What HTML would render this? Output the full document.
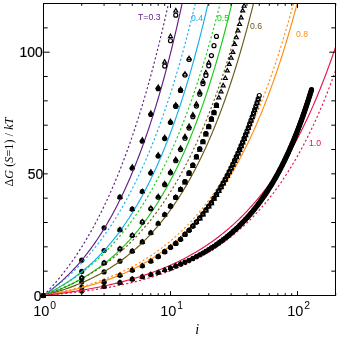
<!DOCTYPE html>
<html><head><meta charset="utf-8"><title>chart</title>
<style>
html,body{margin:0;padding:0;background:#fff;}
#w{position:relative;width:339px;height:341px;overflow:hidden;background:#fff;font-family:"Liberation Sans",sans-serif;}
.t{position:absolute;white-space:nowrap;line-height:1.15;font-family:"Liberation Sans",sans-serif;color:#000;}
</style></head><body><div id="w">
<svg width="339" height="341" viewBox="0 0 339 341" style="position:absolute;left:0;top:0">
<defs><clipPath id="c"><rect x="43.5" y="3.5" width="292.0" height="292.0"/></clipPath></defs>
<rect x="0" y="0" width="339" height="341" fill="#fff"/>
<g fill="#000" stroke="none">
<circle cx="43.50" cy="295.50" r="2.6"/>
<circle cx="81.73" cy="260.22" r="2.6"/>
<circle cx="104.09" cy="227.86" r="2.6"/>
<circle cx="119.96" cy="197.21" r="2.6"/>
<circle cx="132.27" cy="168.25" r="2.6"/>
<circle cx="142.33" cy="141.25" r="2.6"/>
<circle cx="150.83" cy="114.48" r="2.6"/>
<circle cx="158.19" cy="88.70" r="2.6"/>
<circle cx="43.50" cy="295.50" r="2.6"/>
<circle cx="81.73" cy="271.41" r="2.6"/>
<circle cx="104.09" cy="250.49" r="2.6"/>
<circle cx="119.96" cy="229.81" r="2.6"/>
<circle cx="132.27" cy="209.13" r="2.6"/>
<circle cx="142.33" cy="191.61" r="2.6"/>
<circle cx="150.83" cy="173.12" r="2.6"/>
<circle cx="158.19" cy="156.09" r="2.6"/>
<circle cx="164.69" cy="138.57" r="2.6"/>
<circle cx="170.50" cy="122.51" r="2.6"/>
<circle cx="175.76" cy="106.21" r="2.6"/>
<circle cx="180.56" cy="90.40" r="2.6"/>
<circle cx="43.50" cy="295.50" r="2.6"/>
<circle cx="43.50" cy="295.50" r="2.6"/>
<circle cx="81.73" cy="282.12" r="2.6"/>
<circle cx="104.09" cy="271.90" r="2.6"/>
<circle cx="119.96" cy="261.19" r="2.6"/>
<circle cx="132.27" cy="251.22" r="2.6"/>
<circle cx="142.33" cy="241.97" r="2.6"/>
<circle cx="150.83" cy="232.73" r="2.6"/>
<circle cx="158.19" cy="223.48" r="2.6"/>
<circle cx="164.69" cy="214.72" r="2.6"/>
<circle cx="170.50" cy="206.21" r="2.6"/>
<circle cx="175.76" cy="197.45" r="2.6"/>
<circle cx="180.56" cy="189.42" r="2.6"/>
<circle cx="184.97" cy="181.64" r="2.6"/>
<circle cx="189.06" cy="172.88" r="2.6"/>
<circle cx="192.86" cy="165.09" r="2.6"/>
<circle cx="196.42" cy="156.58" r="2.6"/>
<circle cx="199.77" cy="148.79" r="2.6"/>
<circle cx="202.92" cy="141.49" r="2.6"/>
<circle cx="205.90" cy="133.71" r="2.6"/>
<circle cx="208.73" cy="126.41" r="2.6"/>
<circle cx="211.42" cy="118.86" r="2.6"/>
<circle cx="213.99" cy="112.30" r="2.6"/>
<circle cx="216.44" cy="105.13" r="2.6"/>
<circle cx="43.50" cy="295.50" r="2.6"/>
<circle cx="81.73" cy="287.47" r="2.6"/>
<circle cx="104.09" cy="281.63" r="2.6"/>
<circle cx="119.96" cy="275.31" r="2.6"/>
<circle cx="132.27" cy="270.20" r="2.6"/>
<circle cx="142.33" cy="265.82" r="2.6"/>
<circle cx="150.83" cy="261.19" r="2.6"/>
<circle cx="158.19" cy="256.57" r="2.6"/>
<circle cx="164.69" cy="251.71" r="2.6"/>
<circle cx="170.50" cy="247.33" r="2.6"/>
<circle cx="175.76" cy="243.43" r="2.6"/>
<circle cx="180.56" cy="239.30" r="2.6"/>
<circle cx="184.97" cy="234.40" r="2.6"/>
<circle cx="189.06" cy="230.23" r="2.6"/>
<circle cx="192.86" cy="226.11" r="2.6"/>
<circle cx="196.42" cy="222.04" r="2.6"/>
<circle cx="43.50" cy="295.50" r="2.6"/>
<circle cx="81.73" cy="291.12" r="2.6"/>
<circle cx="104.09" cy="286.50" r="2.6"/>
<circle cx="119.96" cy="282.61" r="2.6"/>
<circle cx="132.27" cy="279.20" r="2.6"/>
<circle cx="142.33" cy="276.77" r="2.6"/>
<circle cx="150.83" cy="274.58" r="2.6"/>
<circle cx="158.19" cy="272.48" r="2.6"/>
<circle cx="158.19" cy="196.96" r="1.7"/>
<circle cx="164.69" cy="184.31" r="1.7"/>
<circle cx="170.50" cy="172.39" r="1.7"/>
<circle cx="175.76" cy="160.23" r="1.7"/>
<circle cx="180.56" cy="149.03" r="1.7"/>
<circle cx="184.97" cy="137.60" r="1.7"/>
<circle cx="189.06" cy="127.38" r="1.7"/>
<circle cx="192.86" cy="115.94" r="1.7"/>
<circle cx="196.42" cy="105.24" r="1.7"/>
<circle cx="199.77" cy="93.32" r="1.7"/>
<circle cx="202.92" cy="82.61" r="1.7"/>
</g>
<g clip-path="url(#c)" fill="none" stroke-linecap="butt" stroke-linejoin="round">
<path d="M43.50,295.50 L44.83,294.15 L46.17,292.79 L47.50,291.40 L48.84,289.99 L50.17,288.55 L51.51,287.09 L52.84,285.61 L54.18,284.11 L55.51,282.58 L56.84,281.02 L58.18,279.44 L59.51,277.84 L60.85,276.20 L62.18,274.54 L63.52,272.86 L64.85,271.15 L66.18,269.40 L67.52,267.63 L68.85,265.84 L70.19,264.01 L71.52,262.15 L72.86,260.27 L74.19,258.35 L75.53,256.40 L76.86,254.42 L78.19,252.40 L79.53,250.36 L80.86,248.28 L82.20,246.17 L83.53,244.02 L84.87,241.84 L86.20,239.62 L87.53,237.37 L88.87,235.08 L90.20,232.75 L91.54,230.38 L92.87,227.98 L94.21,225.54 L95.54,223.05 L96.88,220.53 L98.21,217.97 L99.54,215.36 L100.88,212.71 L102.21,210.02 L103.55,207.29 L104.88,204.51 L106.22,201.68 L107.55,198.81 L108.88,195.90 L110.22,192.93 L111.55,189.92 L112.89,186.86 L114.22,183.75 L115.56,180.58 L116.89,177.37 L118.23,174.10 L119.56,170.78 L120.89,167.41 L122.23,163.98 L123.56,160.50 L124.90,156.96 L126.23,153.36 L127.57,149.71 L128.90,145.99 L130.24,142.22 L131.57,138.38 L132.90,134.48 L134.24,130.52 L135.57,126.49 L136.91,122.39 L138.24,118.23 L139.58,114.01 L140.91,109.71 L142.24,105.35 L143.58,100.91 L144.91,96.40 L146.25,91.82 L147.58,87.16 L148.92,82.43 L150.25,77.62 L151.59,72.73 L152.92,67.76 L154.25,62.72 L155.59,57.59 L156.92,52.37 L158.26,47.07 L159.59,41.69 L160.93,36.22 L162.26,30.66 L163.59,25.01 L164.93,19.26 L166.26,13.43 L167.60,7.50 L168.93,1.47 L170.27,-4.66 L171.60,-10.88 L172.94,-17.21" stroke="#5E1E82" stroke-width="1.15" stroke-dasharray="2.1 2.3"/>
<path d="M43.50,295.50 L44.83,294.57 L46.17,293.62 L47.50,292.65 L48.84,291.66 L50.17,290.65 L51.51,289.63 L52.84,288.58 L54.18,287.51 L55.51,286.42 L56.84,285.31 L58.18,284.18 L59.51,283.03 L60.85,281.85 L62.18,280.65 L63.52,279.43 L64.85,278.18 L66.18,276.91 L67.52,275.62 L68.85,274.30 L70.19,272.95 L71.52,271.58 L72.86,270.18 L74.19,268.76 L75.53,267.31 L76.86,265.83 L78.19,264.32 L79.53,262.79 L80.86,261.22 L82.20,259.63 L83.53,258.00 L84.87,256.35 L86.20,254.66 L87.53,252.94 L88.87,251.19 L90.20,249.41 L91.54,247.59 L92.87,245.74 L94.21,243.86 L95.54,241.94 L96.88,239.98 L98.21,237.99 L99.54,235.96 L100.88,233.89 L102.21,231.78 L103.55,229.64 L104.88,227.46 L106.22,225.23 L107.55,222.96 L108.88,220.66 L110.22,218.31 L111.55,215.91 L112.89,213.47 L114.22,210.99 L115.56,208.46 L116.89,205.89 L118.23,203.27 L119.56,200.60 L120.89,197.88 L122.23,195.12 L123.56,192.30 L124.90,189.43 L126.23,186.51 L127.57,183.53 L128.90,180.51 L130.24,177.42 L131.57,174.28 L132.90,171.09 L134.24,167.84 L135.57,164.52 L136.91,161.15 L138.24,157.72 L139.58,154.23 L140.91,150.67 L142.24,147.05 L143.58,143.36 L144.91,139.61 L146.25,135.79 L147.58,131.91 L148.92,127.95 L150.25,123.92 L151.59,119.82 L152.92,115.65 L154.25,111.41 L155.59,107.08 L156.92,102.68 L158.26,98.21 L159.59,93.65 L160.93,89.01 L162.26,84.29 L163.59,79.49 L164.93,74.60 L166.26,69.63 L167.60,64.56 L168.93,59.41 L170.27,54.17 L171.60,48.83 L172.94,43.40 L174.27,37.88 L175.60,32.26 L176.94,26.54 L178.27,20.71 L179.61,14.79 L180.94,8.76 L182.28,2.63 L183.61,-3.61 L184.95,-9.96 L186.28,-16.42 L187.61,-23.00" stroke="#5E1E82" stroke-width="1.15"/>
<path d="M43.50,295.50 L44.83,294.60 L46.17,293.68 L47.50,292.75 L48.84,291.80 L50.17,290.84 L51.51,289.86 L52.84,288.87 L54.18,287.86 L55.51,286.83 L56.84,285.79 L58.18,284.73 L59.51,283.65 L60.85,282.56 L62.18,281.45 L63.52,280.32 L64.85,279.17 L66.18,278.00 L67.52,276.81 L68.85,275.61 L70.19,274.38 L71.52,273.14 L72.86,271.87 L74.19,270.59 L75.53,269.28 L76.86,267.95 L78.19,266.60 L79.53,265.23 L80.86,263.83 L82.20,262.42 L83.53,260.98 L84.87,259.51 L86.20,258.03 L87.53,256.52 L88.87,254.98 L90.20,253.42 L91.54,251.83 L92.87,250.22 L94.21,248.58 L95.54,246.92 L96.88,245.23 L98.21,243.51 L99.54,241.76 L100.88,239.98 L102.21,238.18 L103.55,236.35 L104.88,234.48 L106.22,232.59 L107.55,230.66 L108.88,228.71 L110.22,226.72 L111.55,224.70 L112.89,222.65 L114.22,220.56 L115.56,218.44 L116.89,216.28 L118.23,214.09 L119.56,211.87 L120.89,209.61 L122.23,207.31 L123.56,204.97 L124.90,202.60 L126.23,200.18 L127.57,197.73 L128.90,195.24 L130.24,192.71 L131.57,190.14 L132.90,187.52 L134.24,184.86 L135.57,182.16 L136.91,179.42 L138.24,176.63 L139.58,173.79 L140.91,170.91 L142.24,167.98 L143.58,165.01 L144.91,161.99 L146.25,158.91 L147.58,155.79 L148.92,152.62 L150.25,149.39 L151.59,146.11 L152.92,142.78 L154.25,139.40 L155.59,135.96 L156.92,132.46 L158.26,128.91 L159.59,125.30 L160.93,121.63 L162.26,117.90 L163.59,114.11 L164.93,110.26 L166.26,106.34 L167.60,102.37 L168.93,98.33 L170.27,94.22 L171.60,90.04 L172.94,85.80 L174.27,81.49 L175.60,77.11 L176.94,72.65 L178.27,68.13 L179.61,63.53 L180.94,58.86 L182.28,54.11 L183.61,49.28 L184.95,44.37 L186.28,39.39 L187.61,34.32 L188.95,29.17 L190.28,23.94 L191.62,18.62 L192.95,13.22 L194.29,7.73 L195.62,2.15 L196.95,-3.52 L198.29,-9.29 L199.62,-15.15 L200.96,-21.10" stroke="#14AFEB" stroke-width="1.15" stroke-dasharray="2.1 2.3"/>
<path d="M43.50,295.50 L44.83,294.87 L46.17,294.24 L47.50,293.58 L48.84,292.92 L50.17,292.24 L51.51,291.55 L52.84,290.85 L54.18,290.13 L55.51,289.40 L56.84,288.65 L58.18,287.89 L59.51,287.12 L60.85,286.32 L62.18,285.52 L63.52,284.70 L64.85,283.86 L66.18,283.01 L67.52,282.14 L68.85,281.25 L70.19,280.34 L71.52,279.42 L72.86,278.48 L74.19,277.53 L75.53,276.55 L76.86,275.56 L78.19,274.55 L79.53,273.51 L80.86,272.46 L82.20,271.39 L83.53,270.30 L84.87,269.19 L86.20,268.06 L87.53,266.90 L88.87,265.73 L90.20,264.53 L91.54,263.31 L92.87,262.06 L94.21,260.80 L95.54,259.51 L96.88,258.19 L98.21,256.85 L99.54,255.49 L100.88,254.10 L102.21,252.69 L103.55,251.25 L104.88,249.78 L106.22,248.29 L107.55,246.76 L108.88,245.21 L110.22,243.64 L111.55,242.03 L112.89,240.39 L114.22,238.72 L115.56,237.03 L116.89,235.30 L118.23,233.54 L119.56,231.74 L120.89,229.92 L122.23,228.06 L123.56,226.17 L124.90,224.24 L126.23,222.28 L127.57,220.28 L128.90,218.25 L130.24,216.18 L131.57,214.07 L132.90,211.93 L134.24,209.74 L135.57,207.52 L136.91,205.26 L138.24,202.95 L139.58,200.61 L140.91,198.22 L142.24,195.79 L143.58,193.31 L144.91,190.79 L146.25,188.23 L147.58,185.62 L148.92,182.96 L150.25,180.26 L151.59,177.51 L152.92,174.71 L154.25,171.86 L155.59,168.96 L156.92,166.00 L158.26,163.00 L159.59,159.94 L160.93,156.83 L162.26,153.66 L163.59,150.43 L164.93,147.15 L166.26,143.81 L167.60,140.41 L168.93,136.96 L170.27,133.44 L171.60,129.85 L172.94,126.21 L174.27,122.50 L175.60,118.73 L176.94,114.89 L178.27,110.98 L179.61,107.00 L180.94,102.96 L182.28,98.84 L183.61,94.65 L184.95,90.39 L186.28,86.05 L187.61,81.64 L188.95,77.15 L190.28,72.58 L191.62,67.94 L192.95,63.21 L194.29,58.40 L195.62,53.50 L196.95,48.52 L198.29,43.45 L199.62,38.30 L200.96,33.05 L202.29,27.72 L203.63,22.29 L204.96,16.77 L206.30,11.15 L207.63,5.44 L208.96,-0.38 L210.30,-6.29 L211.63,-12.31 L212.97,-18.43" stroke="#14AFEB" stroke-width="1.15"/>
<path d="M43.50,295.50 L44.83,294.86 L46.17,294.22 L47.50,293.56 L48.84,292.89 L50.17,292.21 L51.51,291.52 L52.84,290.82 L54.18,290.11 L55.51,289.38 L56.84,288.64 L58.18,287.90 L59.51,287.14 L60.85,286.36 L62.18,285.58 L63.52,284.78 L64.85,283.97 L66.18,283.14 L67.52,282.31 L68.85,281.45 L70.19,280.59 L71.52,279.71 L72.86,278.82 L74.19,277.91 L75.53,276.98 L76.86,276.05 L78.19,275.09 L79.53,274.12 L80.86,273.14 L82.20,272.14 L83.53,271.12 L84.87,270.09 L86.20,269.04 L87.53,267.97 L88.87,266.89 L90.20,265.79 L91.54,264.67 L92.87,263.53 L94.21,262.37 L95.54,261.19 L96.88,260.00 L98.21,258.79 L99.54,257.55 L100.88,256.30 L102.21,255.02 L103.55,253.73 L104.88,252.41 L106.22,251.08 L107.55,249.72 L108.88,248.33 L110.22,246.93 L111.55,245.50 L112.89,244.05 L114.22,242.58 L115.56,241.08 L116.89,239.56 L118.23,238.02 L119.56,236.44 L120.89,234.85 L122.23,233.22 L123.56,231.57 L124.90,229.90 L126.23,228.19 L127.57,226.46 L128.90,224.70 L130.24,222.92 L131.57,221.10 L132.90,219.25 L134.24,217.37 L135.57,215.47 L136.91,213.53 L138.24,211.56 L139.58,209.56 L140.91,207.52 L142.24,205.46 L143.58,203.36 L144.91,201.22 L146.25,199.05 L147.58,196.85 L148.92,194.60 L150.25,192.33 L151.59,190.01 L152.92,187.66 L154.25,185.27 L155.59,182.84 L156.92,180.37 L158.26,177.86 L159.59,175.31 L160.93,172.72 L162.26,170.09 L163.59,167.41 L164.93,164.69 L166.26,161.93 L167.60,159.12 L168.93,156.27 L170.27,153.37 L171.60,150.42 L172.94,147.42 L174.27,144.38 L175.60,141.28 L176.94,138.14 L178.27,134.94 L179.61,131.70 L180.94,128.40 L182.28,125.04 L183.61,121.63 L184.95,118.17 L186.28,114.65 L187.61,111.07 L188.95,107.44 L190.28,103.74 L191.62,99.99 L192.95,96.17 L194.29,92.29 L195.62,88.35 L196.95,84.35 L198.29,80.28 L199.62,76.14 L200.96,71.94 L202.29,67.66 L203.63,63.32 L204.96,58.91 L206.30,54.43 L207.63,49.87 L208.96,45.24 L210.30,40.53 L211.63,35.75 L212.97,30.89 L214.30,25.95 L215.64,20.93 L216.97,15.83 L218.30,10.65 L219.64,5.38 L220.97,0.02 L222.31,-5.42 L223.64,-10.95 L224.98,-16.57" stroke="#14CD14" stroke-width="1.15" stroke-dasharray="2.1 2.3"/>
<path d="M43.50,295.50 L44.83,295.06 L46.17,294.60 L47.50,294.14 L48.84,293.67 L50.17,293.19 L51.51,292.70 L52.84,292.20 L54.18,291.69 L55.51,291.18 L56.84,290.65 L58.18,290.11 L59.51,289.56 L60.85,289.00 L62.18,288.43 L63.52,287.84 L64.85,287.25 L66.18,286.65 L67.52,286.03 L68.85,285.40 L70.19,284.76 L71.52,284.11 L72.86,283.44 L74.19,282.77 L75.53,282.08 L76.86,281.37 L78.19,280.65 L79.53,279.92 L80.86,279.18 L82.20,278.42 L83.53,277.65 L84.87,276.86 L86.20,276.06 L87.53,275.24 L88.87,274.41 L90.20,273.56 L91.54,272.70 L92.87,271.82 L94.21,270.92 L95.54,270.01 L96.88,269.08 L98.21,268.13 L99.54,267.16 L100.88,266.18 L102.21,265.18 L103.55,264.16 L104.88,263.12 L106.22,262.06 L107.55,260.99 L108.88,259.89 L110.22,258.77 L111.55,257.63 L112.89,256.48 L114.22,255.30 L115.56,254.09 L116.89,252.87 L118.23,251.63 L119.56,250.36 L120.89,249.07 L122.23,247.75 L123.56,246.41 L124.90,245.05 L126.23,243.66 L127.57,242.25 L128.90,240.81 L130.24,239.35 L131.57,237.85 L132.90,236.34 L134.24,234.79 L135.57,233.22 L136.91,231.62 L138.24,229.99 L139.58,228.33 L140.91,226.64 L142.24,224.92 L143.58,223.17 L144.91,221.39 L146.25,219.57 L147.58,217.73 L148.92,215.85 L150.25,213.94 L151.59,211.99 L152.92,210.01 L154.25,207.99 L155.59,205.94 L156.92,203.85 L158.26,201.73 L159.59,199.56 L160.93,197.36 L162.26,195.12 L163.59,192.84 L164.93,190.52 L166.26,188.16 L167.60,185.75 L168.93,183.31 L170.27,180.82 L171.60,178.29 L172.94,175.71 L174.27,173.09 L175.60,170.42 L176.94,167.70 L178.27,164.94 L179.61,162.13 L180.94,159.27 L182.28,156.36 L183.61,153.39 L184.95,150.38 L186.28,147.31 L187.61,144.19 L188.95,141.02 L190.28,137.79 L191.62,134.50 L192.95,131.16 L194.29,127.76 L195.62,124.30 L196.95,120.78 L198.29,117.20 L199.62,113.55 L200.96,109.84 L202.29,106.07 L203.63,102.23 L204.96,98.33 L206.30,94.36 L207.63,90.32 L208.96,86.21 L210.30,82.03 L211.63,77.77 L212.97,73.45 L214.30,69.05 L215.64,64.57 L216.97,60.01 L218.30,55.38 L219.64,50.67 L220.97,45.87 L222.31,40.99 L223.64,36.03 L224.98,30.99 L226.31,25.85 L227.65,20.63 L228.98,15.32 L230.31,9.92 L231.65,4.43 L232.98,-1.16 L234.32,-6.85 L235.65,-12.63 L236.99,-18.51" stroke="#14CD14" stroke-width="1.15"/>
<path d="M43.50,295.50 L44.83,295.04 L46.17,294.57 L47.50,294.09 L48.84,293.60 L50.17,293.11 L51.51,292.61 L52.84,292.10 L54.18,291.58 L55.51,291.05 L56.84,290.52 L58.18,289.97 L59.51,289.42 L60.85,288.86 L62.18,288.29 L63.52,287.71 L64.85,287.12 L66.18,286.52 L67.52,285.91 L68.85,285.29 L70.19,284.66 L71.52,284.02 L72.86,283.38 L74.19,282.72 L75.53,282.04 L76.86,281.36 L78.19,280.67 L79.53,279.97 L80.86,279.25 L82.20,278.52 L83.53,277.78 L84.87,277.03 L86.20,276.27 L87.53,275.50 L88.87,274.71 L90.20,273.91 L91.54,273.09 L92.87,272.26 L94.21,271.42 L95.54,270.57 L96.88,269.70 L98.21,268.82 L99.54,267.92 L100.88,267.01 L102.21,266.09 L103.55,265.14 L104.88,264.19 L106.22,263.22 L107.55,262.23 L108.88,261.22 L110.22,260.20 L111.55,259.17 L112.89,258.11 L114.22,257.04 L115.56,255.96 L116.89,254.85 L118.23,253.73 L119.56,252.58 L120.89,251.42 L122.23,250.24 L123.56,249.04 L124.90,247.83 L126.23,246.59 L127.57,245.33 L128.90,244.05 L130.24,242.75 L131.57,241.43 L132.90,240.09 L134.24,238.73 L135.57,237.34 L136.91,235.93 L138.24,234.50 L139.58,233.05 L140.91,231.57 L142.24,230.06 L143.58,228.54 L144.91,226.99 L146.25,225.41 L147.58,223.81 L148.92,222.18 L150.25,220.52 L151.59,218.84 L152.92,217.13 L154.25,215.39 L155.59,213.63 L156.92,211.84 L158.26,210.01 L159.59,208.16 L160.93,206.28 L162.26,204.36 L163.59,202.42 L164.93,200.44 L166.26,198.43 L167.60,196.39 L168.93,194.32 L170.27,192.21 L171.60,190.07 L172.94,187.89 L174.27,185.68 L175.60,183.43 L176.94,181.14 L178.27,178.82 L179.61,176.46 L180.94,174.06 L182.28,171.63 L183.61,169.15 L184.95,166.63 L186.28,164.07 L187.61,161.47 L188.95,158.83 L190.28,156.15 L191.62,153.42 L192.95,150.65 L194.29,147.83 L195.62,144.96 L196.95,142.05 L198.29,139.10 L199.62,136.09 L200.96,133.03 L202.29,129.93 L203.63,126.78 L204.96,123.57 L206.30,120.31 L207.63,117.00 L208.96,113.63 L210.30,110.21 L211.63,106.74 L212.97,103.21 L214.30,99.62 L215.64,95.97 L216.97,92.26 L218.30,88.49 L219.64,84.67 L220.97,80.78 L222.31,76.82 L223.64,72.80 L224.98,68.72 L226.31,64.57 L227.65,60.35 L228.98,56.06 L230.31,51.71 L231.65,47.28 L232.98,42.78 L234.32,38.21 L235.65,33.56 L236.99,28.84 L238.32,24.04 L239.65,19.17 L240.99,14.21 L242.32,9.18 L243.66,4.06 L244.99,-1.14 L246.33,-6.43 L247.66,-11.80 L249.00,-17.26" stroke="#695A19" stroke-width="1.15" stroke-dasharray="2.1 2.3"/>
<path d="M43.50,295.50 L44.83,295.16 L46.17,294.82 L47.50,294.47 L48.84,294.11 L50.17,293.75 L51.51,293.38 L52.84,293.00 L54.18,292.62 L55.51,292.23 L56.84,291.83 L58.18,291.42 L59.51,291.00 L60.85,290.58 L62.18,290.15 L63.52,289.71 L64.85,289.26 L66.18,288.81 L67.52,288.34 L68.85,287.87 L70.19,287.39 L71.52,286.90 L72.86,286.40 L74.19,285.89 L75.53,285.37 L76.86,284.84 L78.19,284.30 L79.53,283.75 L80.86,283.20 L82.20,282.63 L83.53,282.05 L84.87,281.46 L86.20,280.86 L87.53,280.24 L88.87,279.62 L90.20,278.98 L91.54,278.34 L92.87,277.68 L94.21,277.01 L95.54,276.32 L96.88,275.63 L98.21,274.92 L99.54,274.20 L100.88,273.47 L102.21,272.72 L103.55,271.96 L104.88,271.18 L106.22,270.39 L107.55,269.59 L108.88,268.77 L110.22,267.94 L111.55,267.09 L112.89,266.23 L114.22,265.35 L115.56,264.45 L116.89,263.54 L118.23,262.61 L119.56,261.67 L120.89,260.71 L122.23,259.73 L123.56,258.73 L124.90,257.72 L126.23,256.69 L127.57,255.64 L128.90,254.57 L130.24,253.48 L131.57,252.37 L132.90,251.25 L134.24,250.10 L135.57,248.93 L136.91,247.74 L138.24,246.53 L139.58,245.30 L140.91,244.05 L142.24,242.77 L143.58,241.48 L144.91,240.16 L146.25,238.81 L147.58,237.44 L148.92,236.05 L150.25,234.64 L151.59,233.19 L152.92,231.73 L154.25,230.23 L155.59,228.71 L156.92,227.17 L158.26,225.60 L159.59,224.00 L160.93,222.37 L162.26,220.71 L163.59,219.02 L164.93,217.31 L166.26,215.56 L167.60,213.79 L168.93,211.98 L170.27,210.14 L171.60,208.27 L172.94,206.36 L174.27,204.43 L175.60,202.46 L176.94,200.45 L178.27,198.41 L179.61,196.34 L180.94,194.23 L182.28,192.08 L183.61,189.89 L184.95,187.67 L186.28,185.41 L187.61,183.11 L188.95,180.77 L190.28,178.38 L191.62,175.96 L192.95,173.50 L194.29,170.99 L195.62,168.44 L196.95,165.85 L198.29,163.21 L199.62,160.52 L200.96,157.79 L202.29,155.01 L203.63,152.19 L204.96,149.31 L206.30,146.39 L207.63,143.41 L208.96,140.39 L210.30,137.31 L211.63,134.18 L212.97,131.00 L214.30,127.76 L215.64,124.47 L216.97,121.12 L218.30,117.71 L219.64,114.24 L220.97,110.72 L222.31,107.13 L223.64,103.48 L224.98,99.77 L226.31,96.00 L227.65,92.16 L228.98,88.26 L230.31,84.29 L231.65,80.26 L232.98,76.15 L234.32,71.97 L235.65,67.73 L236.99,63.41 L238.32,59.02 L239.65,54.55 L240.99,50.01 L242.32,45.39 L243.66,40.69 L244.99,35.91 L246.33,31.05 L247.66,26.10 L249.00,21.08 L250.33,15.97 L251.66,10.77 L253.00,5.48 L254.33,0.11 L255.67,-5.36 L257.00,-10.92 L258.34,-16.58" stroke="#695A19" stroke-width="1.15"/>
<path d="M43.50,295.50 L44.83,295.26 L46.17,295.01 L47.50,294.76 L48.84,294.50 L50.17,294.24 L51.51,293.98 L52.84,293.71 L54.18,293.44 L55.51,293.16 L56.84,292.88 L58.18,292.60 L59.51,292.30 L60.85,292.01 L62.18,291.71 L63.52,291.40 L64.85,291.09 L66.18,290.78 L67.52,290.46 L68.85,290.13 L70.19,289.80 L71.52,289.47 L72.86,289.13 L74.19,288.78 L75.53,288.43 L76.86,288.07 L78.19,287.70 L79.53,287.33 L80.86,286.96 L82.20,286.58 L83.53,286.19 L84.87,285.79 L86.20,285.39 L87.53,284.98 L88.87,284.57 L90.20,284.15 L91.54,283.72 L92.87,283.29 L94.21,282.84 L95.54,282.40 L96.88,281.94 L98.21,281.48 L99.54,281.00 L100.88,280.53 L102.21,280.04 L103.55,279.54 L104.88,279.04 L106.22,278.53 L107.55,278.01 L108.88,277.48 L110.22,276.95 L111.55,276.40 L112.89,275.85 L114.22,275.29 L115.56,274.71 L116.89,274.13 L118.23,273.54 L119.56,272.94 L120.89,272.33 L122.23,271.71 L123.56,271.08 L124.90,270.44 L126.23,269.79 L127.57,269.13 L128.90,268.46 L130.24,267.77 L131.57,267.08 L132.90,266.37 L134.24,265.66 L135.57,264.93 L136.91,264.19 L138.24,263.44 L139.58,262.67 L140.91,261.89 L142.24,261.10 L143.58,260.30 L144.91,259.49 L146.25,258.66 L147.58,257.82 L148.92,256.96 L150.25,256.09 L151.59,255.21 L152.92,254.31 L154.25,253.39 L155.59,252.47 L156.92,251.52 L158.26,250.56 L159.59,249.59 L160.93,248.60 L162.26,247.59 L163.59,246.57 L164.93,245.53 L166.26,244.48 L167.60,243.40 L168.93,242.31 L170.27,241.21 L171.60,240.08 L172.94,238.94 L174.27,237.77 L175.60,236.59 L176.94,235.39 L178.27,234.17 L179.61,232.93 L180.94,231.67 L182.28,230.39 L183.61,229.09 L184.95,227.76 L186.28,226.42 L187.61,225.05 L188.95,223.66 L190.28,222.25 L191.62,220.82 L192.95,219.36 L194.29,217.88 L195.62,216.37 L196.95,214.84 L198.29,213.29 L199.62,211.71 L200.96,210.10 L202.29,208.47 L203.63,206.81 L204.96,205.13 L206.30,203.41 L207.63,201.67 L208.96,199.90 L210.30,198.11 L211.63,196.28 L212.97,194.42 L214.30,192.54 L215.64,190.62 L216.97,188.67 L218.30,186.69 L219.64,184.68 L220.97,182.63 L222.31,180.55 L223.64,178.44 L224.98,176.29 L226.31,174.11 L227.65,171.90 L228.98,169.64 L230.31,167.35 L231.65,165.03 L232.98,162.66 L234.32,160.26 L235.65,157.82 L236.99,155.33 L238.32,152.81 L239.65,150.25 L240.99,147.64 L242.32,145.00 L243.66,142.31 L244.99,139.57 L246.33,136.79 L247.66,133.97 L249.00,131.10 L250.33,128.18 L251.66,125.22 L253.00,122.21 L254.33,119.15 L255.67,116.04 L257.00,112.87 L258.34,109.66 L259.67,106.40 L261.01,103.08 L262.34,99.71 L263.67,96.28 L265.01,92.80 L266.34,89.26 L267.68,85.66 L269.01,82.01 L270.35,78.29 L271.68,74.52 L273.01,70.68 L274.35,66.78 L275.68,62.82 L277.02,58.79 L278.35,54.70 L279.69,50.54 L281.02,46.32 L282.36,42.02 L283.69,37.66 L285.02,33.22 L286.36,28.71 L287.69,24.13 L289.03,19.48 L290.36,14.74 L291.70,9.94 L293.03,5.05 L294.36,0.08 L295.70,-4.96 L297.03,-10.09 L298.37,-15.30 L299.70,-20.60" stroke="#FF8C14" stroke-width="1.15" stroke-dasharray="2.1 2.3"/>
<path d="M43.50,295.50 L44.83,295.29 L46.17,295.07 L47.50,294.85 L48.84,294.63 L50.17,294.40 L51.51,294.17 L52.84,293.94 L54.18,293.70 L55.51,293.46 L56.84,293.21 L58.18,292.96 L59.51,292.70 L60.85,292.44 L62.18,292.17 L63.52,291.91 L64.85,291.63 L66.18,291.35 L67.52,291.07 L68.85,290.78 L70.19,290.49 L71.52,290.19 L72.86,289.88 L74.19,289.57 L75.53,289.26 L76.86,288.94 L78.19,288.61 L79.53,288.28 L80.86,287.94 L82.20,287.60 L83.53,287.25 L84.87,286.90 L86.20,286.54 L87.53,286.17 L88.87,285.80 L90.20,285.42 L91.54,285.03 L92.87,284.64 L94.21,284.24 L95.54,283.83 L96.88,283.42 L98.21,283.00 L99.54,282.57 L100.88,282.14 L102.21,281.70 L103.55,281.25 L104.88,280.79 L106.22,280.32 L107.55,279.85 L108.88,279.37 L110.22,278.88 L111.55,278.38 L112.89,277.88 L114.22,277.36 L115.56,276.84 L116.89,276.31 L118.23,275.76 L119.56,275.21 L120.89,274.65 L122.23,274.08 L123.56,273.50 L124.90,272.91 L126.23,272.32 L127.57,271.71 L128.90,271.09 L130.24,270.46 L131.57,269.82 L132.90,269.16 L134.24,268.50 L135.57,267.83 L136.91,267.14 L138.24,266.44 L139.58,265.74 L140.91,265.01 L142.24,264.28 L143.58,263.54 L144.91,262.78 L146.25,262.01 L147.58,261.22 L148.92,260.43 L150.25,259.62 L151.59,258.79 L152.92,257.96 L154.25,257.10 L155.59,256.24 L156.92,255.36 L158.26,254.46 L159.59,253.55 L160.93,252.62 L162.26,251.68 L163.59,250.72 L164.93,249.75 L166.26,248.76 L167.60,247.75 L168.93,246.73 L170.27,245.69 L171.60,244.63 L172.94,243.55 L174.27,242.46 L175.60,241.35 L176.94,240.22 L178.27,239.07 L179.61,237.90 L180.94,236.71 L182.28,235.50 L183.61,234.27 L184.95,233.02 L186.28,231.75 L187.61,230.46 L188.95,229.15 L190.28,227.81 L191.62,226.45 L192.95,225.07 L194.29,223.67 L195.62,222.24 L196.95,220.79 L198.29,219.31 L199.62,217.82 L200.96,216.29 L202.29,214.74 L203.63,213.16 L204.96,211.56 L206.30,209.93 L207.63,208.28 L208.96,206.59 L210.30,204.88 L211.63,203.14 L212.97,201.37 L214.30,199.57 L215.64,197.74 L216.97,195.88 L218.30,193.99 L219.64,192.07 L220.97,190.12 L222.31,188.13 L223.64,186.11 L224.98,184.06 L226.31,181.97 L227.65,179.85 L228.98,177.69 L230.31,175.50 L231.65,173.27 L232.98,171.00 L234.32,168.70 L235.65,166.36 L236.99,163.98 L238.32,161.55 L239.65,159.09 L240.99,156.59 L242.32,154.05 L243.66,151.46 L244.99,148.83 L246.33,146.16 L247.66,143.45 L249.00,140.68 L250.33,137.88 L251.66,135.02 L253.00,132.12 L254.33,129.17 L255.67,126.18 L257.00,123.13 L258.34,120.03 L259.67,116.88 L261.01,113.68 L262.34,110.42 L263.67,107.11 L265.01,103.75 L266.34,100.33 L267.68,96.86 L269.01,93.32 L270.35,89.73 L271.68,86.08 L273.01,82.37 L274.35,78.60 L275.68,74.76 L277.02,70.86 L278.35,66.90 L279.69,62.87 L281.02,58.78 L282.36,54.62 L283.69,50.39 L285.02,46.08 L286.36,41.71 L287.69,37.27 L289.03,32.75 L290.36,28.16 L291.70,23.49 L293.03,18.74 L294.36,13.92 L295.70,9.02 L297.03,4.03 L298.37,-1.03 L299.70,-6.18 L301.04,-11.42 L302.37,-16.74" stroke="#FF8C14" stroke-width="1.15"/>
<path d="M43.50,295.50 L44.83,295.39 L46.17,295.28 L47.50,295.16 L48.84,295.05 L50.17,294.93 L51.51,294.81 L52.84,294.69 L54.18,294.57 L55.51,294.44 L56.84,294.31 L58.18,294.18 L59.51,294.05 L60.85,293.92 L62.18,293.78 L63.52,293.64 L64.85,293.50 L66.18,293.36 L67.52,293.21 L68.85,293.07 L70.19,292.92 L71.52,292.76 L72.86,292.61 L74.19,292.45 L75.53,292.29 L76.86,292.13 L78.19,291.96 L79.53,291.80 L80.86,291.63 L82.20,291.45 L83.53,291.28 L84.87,291.10 L86.20,290.91 L87.53,290.73 L88.87,290.54 L90.20,290.35 L91.54,290.16 L92.87,289.96 L94.21,289.76 L95.54,289.56 L96.88,289.35 L98.21,289.14 L99.54,288.92 L100.88,288.71 L102.21,288.49 L103.55,288.26 L104.88,288.03 L106.22,287.80 L107.55,287.57 L108.88,287.33 L110.22,287.08 L111.55,286.84 L112.89,286.58 L114.22,286.33 L115.56,286.07 L116.89,285.81 L118.23,285.54 L119.56,285.27 L120.89,284.99 L122.23,284.71 L123.56,284.42 L124.90,284.13 L126.23,283.84 L127.57,283.54 L128.90,283.23 L130.24,282.92 L131.57,282.61 L132.90,282.29 L134.24,281.96 L135.57,281.63 L136.91,281.30 L138.24,280.95 L139.58,280.61 L140.91,280.25 L142.24,279.90 L143.58,279.53 L144.91,279.16 L146.25,278.79 L147.58,278.40 L148.92,278.02 L150.25,277.62 L151.59,277.22 L152.92,276.81 L154.25,276.40 L155.59,275.98 L156.92,275.55 L158.26,275.11 L159.59,274.67 L160.93,274.22 L162.26,273.77 L163.59,273.30 L164.93,272.83 L166.26,272.35 L167.60,271.87 L168.93,271.37 L170.27,270.87 L171.60,270.36 L172.94,269.84 L174.27,269.31 L175.60,268.78 L176.94,268.23 L178.27,267.68 L179.61,267.11 L180.94,266.54 L182.28,265.96 L183.61,265.37 L184.95,264.77 L186.28,264.16 L187.61,263.54 L188.95,262.91 L190.28,262.27 L191.62,261.62 L192.95,260.96 L194.29,260.29 L195.62,259.60 L196.95,258.91 L198.29,258.20 L199.62,257.49 L200.96,256.76 L202.29,256.02 L203.63,255.27 L204.96,254.50 L206.30,253.72 L207.63,252.93 L208.96,252.13 L210.30,251.32 L211.63,250.49 L212.97,249.65 L214.30,248.79 L215.64,247.92 L216.97,247.04 L218.30,246.14 L219.64,245.22 L220.97,244.30 L222.31,243.35 L223.64,242.40 L224.98,241.42 L226.31,240.43 L227.65,239.43 L228.98,238.40 L230.31,237.37 L231.65,236.31 L232.98,235.24 L234.32,234.15 L235.65,233.04 L236.99,231.91 L238.32,230.77 L239.65,229.61 L240.99,228.42 L242.32,227.22 L243.66,226.00 L244.99,224.76 L246.33,223.50 L247.66,222.22 L249.00,220.92 L250.33,219.60 L251.66,218.25 L253.00,216.88 L254.33,215.50 L255.67,214.08 L257.00,212.65 L258.34,211.19 L259.67,209.71 L261.01,208.21 L262.34,206.68 L263.67,205.12 L265.01,203.54 L266.34,201.94 L267.68,200.30 L269.01,198.65 L270.35,196.96 L271.68,195.25 L273.01,193.51 L274.35,191.74 L275.68,189.94 L277.02,188.12 L278.35,186.26 L279.69,184.37 L281.02,182.46 L282.36,180.51 L283.69,178.53 L285.02,176.51 L286.36,174.47 L287.69,172.39 L289.03,170.28 L290.36,168.13 L291.70,165.95 L293.03,163.73 L294.36,161.48 L295.70,159.19 L297.03,156.87 L298.37,154.50 L299.70,152.10 L301.04,149.66 L302.37,147.17 L303.71,144.65 L305.04,142.09 L306.37,139.48 L307.71,136.84 L309.04,134.15 L310.38,131.41 L311.71,128.63 L313.05,125.81 L314.38,122.94 L315.72,120.03 L317.05,117.06 L318.38,114.05 L319.72,110.99 L321.05,107.88 L322.39,104.72 L323.72,101.51 L325.06,98.24 L326.39,94.92 L327.72,91.55 L329.06,88.13 L330.39,84.64 L331.73,81.10 L333.06,77.51 L334.40,73.85 L335.73,70.14" stroke="#E11446" stroke-width="1.15" stroke-dasharray="2.1 2.3"/>
<path d="M43.50,295.50 L44.83,295.35 L46.17,295.20 L47.50,295.04 L48.84,294.89 L50.17,294.73 L51.51,294.57 L52.84,294.41 L54.18,294.24 L55.51,294.07 L56.84,293.90 L58.18,293.73 L59.51,293.56 L60.85,293.38 L62.18,293.20 L63.52,293.02 L64.85,292.83 L66.18,292.64 L67.52,292.45 L68.85,292.26 L70.19,292.06 L71.52,291.87 L72.86,291.66 L74.19,291.46 L75.53,291.25 L76.86,291.04 L78.19,290.83 L79.53,290.61 L80.86,290.39 L82.20,290.17 L83.53,289.94 L84.87,289.71 L86.20,289.48 L87.53,289.25 L88.87,289.01 L90.20,288.76 L91.54,288.52 L92.87,288.27 L94.21,288.01 L95.54,287.76 L96.88,287.50 L98.21,287.23 L99.54,286.96 L100.88,286.69 L102.21,286.41 L103.55,286.13 L104.88,285.85 L106.22,285.56 L107.55,285.27 L108.88,284.97 L110.22,284.67 L111.55,284.36 L112.89,284.05 L114.22,283.73 L115.56,283.41 L116.89,283.09 L118.23,282.76 L119.56,282.43 L120.89,282.09 L122.23,281.74 L123.56,281.39 L124.90,281.04 L126.23,280.68 L127.57,280.31 L128.90,279.94 L130.24,279.57 L131.57,279.19 L132.90,278.80 L134.24,278.41 L135.57,278.01 L136.91,277.60 L138.24,277.19 L139.58,276.78 L140.91,276.35 L142.24,275.92 L143.58,275.49 L144.91,275.05 L146.25,274.60 L147.58,274.14 L148.92,273.68 L150.25,273.21 L151.59,272.73 L152.92,272.25 L154.25,271.76 L155.59,271.26 L156.92,270.76 L158.26,270.24 L159.59,269.72 L160.93,269.20 L162.26,268.66 L163.59,268.11 L164.93,267.56 L166.26,267.00 L167.60,266.43 L168.93,265.85 L170.27,265.27 L171.60,264.67 L172.94,264.07 L174.27,263.45 L175.60,262.83 L176.94,262.20 L178.27,261.56 L179.61,260.90 L180.94,260.24 L182.28,259.57 L183.61,258.89 L184.95,258.20 L186.28,257.49 L187.61,256.78 L188.95,256.06 L190.28,255.32 L191.62,254.57 L192.95,253.82 L194.29,253.05 L195.62,252.27 L196.95,251.47 L198.29,250.67 L199.62,249.85 L200.96,249.02 L202.29,248.18 L203.63,247.32 L204.96,246.46 L206.30,245.57 L207.63,244.68 L208.96,243.77 L210.30,242.85 L211.63,241.91 L212.97,240.96 L214.30,239.99 L215.64,239.01 L216.97,238.02 L218.30,237.01 L219.64,235.98 L220.97,234.94 L222.31,233.88 L223.64,232.81 L224.98,231.72 L226.31,230.61 L227.65,229.48 L228.98,228.34 L230.31,227.18 L231.65,226.00 L232.98,224.81 L234.32,223.60 L235.65,222.36 L236.99,221.11 L238.32,219.84 L239.65,218.55 L240.99,217.24 L242.32,215.91 L243.66,214.56 L244.99,213.18 L246.33,211.79 L247.66,210.37 L249.00,208.94 L250.33,207.48 L251.66,206.00 L253.00,204.49 L254.33,202.96 L255.67,201.41 L257.00,199.83 L258.34,198.23 L259.67,196.61 L261.01,194.96 L262.34,193.28 L263.67,191.58 L265.01,189.85 L266.34,188.09 L267.68,186.31 L269.01,184.50 L270.35,182.66 L271.68,180.79 L273.01,178.90 L274.35,176.97 L275.68,175.01 L277.02,173.03 L278.35,171.01 L279.69,168.96 L281.02,166.88 L282.36,164.76 L283.69,162.62 L285.02,160.43 L286.36,158.22 L287.69,155.97 L289.03,153.69 L290.36,151.37 L291.70,149.01 L293.03,146.62 L294.36,144.19 L295.70,141.72 L297.03,139.21 L298.37,136.66 L299.70,134.08 L301.04,131.45 L302.37,128.78 L303.71,126.07 L305.04,123.32 L306.37,120.52 L307.71,117.68 L309.04,114.80 L310.38,111.87 L311.71,108.89 L313.05,105.87 L314.38,102.80 L315.72,99.68 L317.05,96.51 L318.38,93.29 L319.72,90.02 L321.05,86.70 L322.39,83.33 L323.72,79.91 L325.06,76.43 L326.39,72.90 L327.72,69.31 L329.06,65.66 L330.39,61.96 L331.73,58.19 L333.06,54.37 L334.40,50.49 L335.73,46.55" stroke="#E11446" stroke-width="1.15"/>
</g>
<g fill="none" stroke="#000" stroke-width="1.2" stroke-linejoin="miter">
<path d="M119.96,194.91 L117.97,198.36 L121.95,198.36 Z"/>
<path d="M132.27,164.74 L130.28,168.19 L134.26,168.19 Z"/>
<path d="M142.33,137.73 L140.33,141.18 L144.32,141.18 Z"/>
<path d="M150.83,110.85 L148.84,114.30 L152.82,114.30 Z"/>
<path d="M158.19,85.06 L156.20,88.51 L160.18,88.51 Z"/>
<path d="M164.69,59.63 L162.70,63.08 L166.68,63.08 Z"/>
<path d="M170.50,34.09 L168.51,37.54 L172.49,37.54 Z"/>
<path d="M175.76,8.54 L173.77,11.99 L177.75,11.99 Z"/>
<circle cx="164.69" cy="66.07" r="2.0"/>
<circle cx="170.50" cy="40.76" r="2.0"/>
<circle cx="175.76" cy="15.22" r="2.0"/>
<path d="M119.96,227.51 L117.97,230.96 L121.95,230.96 Z"/>
<path d="M132.27,206.83 L130.28,210.28 L134.26,210.28 Z"/>
<path d="M142.33,189.31 L140.33,192.76 L144.32,192.76 Z"/>
<path d="M150.83,169.73 L148.84,173.18 L152.82,173.18 Z"/>
<path d="M158.19,152.69 L156.20,156.14 L160.18,156.14 Z"/>
<path d="M164.69,135.18 L162.70,138.63 L166.68,138.63 Z"/>
<path d="M170.50,119.12 L168.51,122.57 L172.49,122.57 Z"/>
<path d="M175.76,102.82 L173.77,106.27 L177.75,106.27 Z"/>
<path d="M180.56,87.00 L178.56,90.45 L182.55,90.45 Z"/>
<path d="M184.97,71.80 L182.98,75.25 L186.96,75.25 Z"/>
<path d="M189.06,56.23 L187.07,59.68 L191.05,59.68 Z"/>
<circle cx="175.76" cy="106.21" r="2.0"/>
<circle cx="180.56" cy="90.40" r="2.0"/>
<circle cx="184.97" cy="75.07" r="2.0"/>
<circle cx="189.06" cy="59.50" r="2.0"/>
<path d="M81.73,275.44 L79.74,278.89 L83.72,278.89 Z"/>
<path d="M104.09,260.60 L102.10,264.05 L106.09,264.05 Z"/>
<path d="M119.96,246.49 L117.97,249.94 L121.95,249.94 Z"/>
<path d="M132.27,233.00 L130.28,236.45 L134.26,236.45 Z"/>
<path d="M142.33,219.50 L140.33,222.95 L144.32,222.95 Z"/>
<path d="M150.83,206.01 L148.84,209.46 L152.82,209.46 Z"/>
<path d="M158.19,194.23 L156.20,197.68 L160.18,197.68 Z"/>
<path d="M164.69,181.46 L162.70,184.91 L166.68,184.91 Z"/>
<path d="M170.50,169.43 L168.51,172.88 L172.49,172.88 Z"/>
<path d="M175.76,157.16 L173.77,160.61 L177.75,160.61 Z"/>
<path d="M180.56,145.86 L178.56,149.31 L182.55,149.31 Z"/>
<path d="M184.97,134.31 L182.98,137.76 L186.96,137.76 Z"/>
<path d="M189.06,123.98 L187.07,127.43 L191.05,127.43 Z"/>
<path d="M192.86,112.44 L190.87,115.89 L194.86,115.89 Z"/>
<path d="M196.42,101.63 L194.43,105.08 L198.42,105.08 Z"/>
<path d="M199.77,89.59 L197.78,93.04 L201.76,93.04 Z"/>
<path d="M202.92,78.78 L200.93,82.23 L204.91,82.23 Z"/>
<path d="M205.90,70.40 L203.91,73.85 L207.89,73.85 Z"/>
<path d="M208.73,60.56 L206.74,64.01 L210.72,64.01 Z"/>
<circle cx="81.73" cy="277.74" r="2.0"/>
<circle cx="104.09" cy="262.90" r="2.0"/>
<circle cx="119.96" cy="248.79" r="2.0"/>
<circle cx="132.27" cy="235.48" r="2.0"/>
<circle cx="142.33" cy="222.17" r="2.0"/>
<circle cx="150.83" cy="208.86" r="2.0"/>
<circle cx="158.19" cy="197.26" r="2.0"/>
<circle cx="164.69" cy="184.68" r="2.0"/>
<circle cx="170.50" cy="172.83" r="2.0"/>
<circle cx="175.76" cy="160.74" r="2.0"/>
<circle cx="180.56" cy="149.62" r="2.0"/>
<circle cx="184.97" cy="138.26" r="2.0"/>
<circle cx="189.06" cy="128.11" r="2.0"/>
<circle cx="192.86" cy="116.75" r="2.0"/>
<circle cx="196.42" cy="106.12" r="2.0"/>
<circle cx="199.77" cy="94.27" r="2.0"/>
<circle cx="202.92" cy="83.63" r="2.0"/>
<circle cx="205.90" cy="75.44" r="2.0"/>
<circle cx="208.73" cy="65.78" r="2.0"/>
<circle cx="211.42" cy="55.61" r="2.0"/>
<circle cx="213.99" cy="45.63" r="2.0"/>
<circle cx="216.44" cy="36.39" r="2.0"/>
<path d="M132.27,248.92 L130.28,252.37 L134.26,252.37 Z"/>
<path d="M142.33,239.67 L140.33,243.12 L144.32,243.12 Z"/>
<path d="M150.83,230.43 L148.84,233.88 L152.82,233.88 Z"/>
<path d="M158.19,221.18 L156.20,224.63 L160.18,224.63 Z"/>
<path d="M164.69,212.42 L162.70,215.87 L166.68,215.87 Z"/>
<path d="M170.50,203.91 L168.51,207.36 L172.49,207.36 Z"/>
<path d="M175.76,195.15 L173.77,198.60 L177.75,198.60 Z"/>
<path d="M180.56,187.12 L178.56,190.57 L182.55,190.57 Z"/>
<path d="M184.97,180.43 L182.98,183.88 L186.96,183.88 Z"/>
<path d="M189.06,171.67 L187.07,175.12 L191.05,175.12 Z"/>
<path d="M192.86,163.89 L190.87,167.34 L194.86,167.34 Z"/>
<path d="M196.42,155.37 L194.43,158.82 L198.42,158.82 Z"/>
<path d="M199.77,147.58 L197.78,151.03 L201.76,151.03 Z"/>
<path d="M202.92,140.29 L200.93,143.74 L204.91,143.74 Z"/>
<path d="M205.90,132.50 L203.91,135.95 L207.89,135.95 Z"/>
<path d="M208.73,125.20 L206.74,128.65 L210.72,128.65 Z"/>
<path d="M211.42,117.66 L209.43,121.11 L213.41,121.11 Z"/>
<path d="M213.99,111.10 L212.00,114.55 L215.98,114.55 Z"/>
<path d="M216.44,103.93 L214.45,107.38 L218.43,107.38 Z"/>
<path d="M218.79,95.52 L216.80,98.97 L220.78,98.97 Z"/>
<path d="M221.04,89.44 L219.05,92.89 L223.03,92.89 Z"/>
<path d="M223.20,83.35 L221.21,86.80 L225.19,86.80 Z"/>
<path d="M225.28,76.05 L223.29,79.50 L227.27,79.50 Z"/>
<path d="M227.29,68.51 L225.30,71.96 L229.28,71.96 Z"/>
<path d="M229.22,61.94 L227.23,65.39 L231.22,65.39 Z"/>
<path d="M231.09,55.62 L229.10,59.07 L233.09,59.07 Z"/>
<path d="M232.90,50.02 L230.91,53.47 L234.89,53.47 Z"/>
<path d="M234.65,41.89 L232.66,45.34 L236.65,45.34 Z"/>
<path d="M236.35,35.29 L234.36,38.74 L238.34,38.74 Z"/>
<path d="M238.00,28.37 L236.01,31.82 L239.99,31.82 Z"/>
<path d="M239.60,22.04 L237.60,25.49 L241.59,25.49 Z"/>
<path d="M241.15,15.47 L239.16,18.92 L243.14,18.92 Z"/>
<path d="M242.66,8.42 L240.67,11.87 L244.65,11.87 Z"/>
<path d="M244.13,3.79 L242.14,7.24 L246.12,7.24 Z"/>
<circle cx="170.50" cy="206.21" r="2.0"/>
<circle cx="175.76" cy="197.45" r="2.0"/>
<circle cx="180.56" cy="189.42" r="2.0"/>
<circle cx="184.97" cy="181.64" r="2.0"/>
<circle cx="189.06" cy="172.88" r="2.0"/>
<circle cx="192.86" cy="165.09" r="2.0"/>
<circle cx="196.42" cy="156.58" r="2.0"/>
<circle cx="199.77" cy="148.79" r="2.0"/>
<circle cx="202.92" cy="141.49" r="2.0"/>
<circle cx="205.90" cy="133.71" r="2.0"/>
<circle cx="208.73" cy="126.41" r="2.0"/>
<circle cx="211.42" cy="118.86" r="2.0"/>
<circle cx="213.99" cy="112.30" r="2.0"/>
<circle cx="216.44" cy="105.13" r="2.0"/>
<path d="M104.09,279.33 L102.10,282.78 L106.09,282.78 Z"/>
<path d="M119.96,273.01 L117.97,276.46 L121.95,276.46 Z"/>
<path d="M132.27,267.90 L130.28,271.35 L134.26,271.35 Z"/>
<path d="M142.33,263.52 L140.33,266.97 L144.32,266.97 Z"/>
<path d="M150.83,258.89 L148.84,262.34 L152.82,262.34 Z"/>
<path d="M158.19,254.27 L156.20,257.72 L160.18,257.72 Z"/>
<path d="M164.69,249.41 L162.70,252.86 L166.68,252.86 Z"/>
<path d="M170.50,245.03 L168.51,248.48 L172.49,248.48 Z"/>
<path d="M175.76,241.13 L173.77,244.58 L177.75,244.58 Z"/>
<path d="M180.56,237.00 L178.56,240.45 L182.55,240.45 Z"/>
<path d="M184.97,232.10 L182.98,235.55 L186.96,235.55 Z"/>
<path d="M189.06,227.93 L187.07,231.38 L191.05,231.38 Z"/>
<path d="M192.86,223.81 L190.87,227.26 L194.86,227.26 Z"/>
<path d="M196.42,219.74 L194.43,223.19 L198.42,223.19 Z"/>
<path d="M199.77,216.31 L197.78,219.76 L201.76,219.76 Z" stroke-width="1.45"/>
<path d="M202.92,212.32 L200.93,215.77 L204.91,215.77 Z" stroke-width="1.45"/>
<path d="M205.90,208.35 L203.91,211.80 L207.89,211.80 Z" stroke-width="1.45"/>
<path d="M208.73,204.41 L206.74,207.86 L210.72,207.86 Z" stroke-width="1.45"/>
<path d="M211.42,201.11 L209.43,204.56 L213.41,204.56 Z" stroke-width="1.45"/>
<path d="M213.99,196.61 L212.00,200.06 L215.98,200.06 Z" stroke-width="1.45"/>
<path d="M216.44,192.75 L214.45,196.20 L218.43,196.20 Z" stroke-width="1.45"/>
<path d="M218.79,188.91 L216.80,192.36 L220.78,192.36 Z" stroke-width="1.45"/>
<path d="M221.04,185.09 L219.05,188.54 L223.03,188.54 Z" stroke-width="1.45"/>
<path d="M223.20,181.28 L221.21,184.73 L225.19,184.73 Z" stroke-width="1.45"/>
<path d="M225.28,177.50 L223.29,180.95 L227.27,180.95 Z" stroke-width="1.45"/>
<path d="M227.29,173.73 L225.30,177.18 L229.28,177.18 Z" stroke-width="1.45"/>
<path d="M229.22,169.97 L227.23,173.42 L231.22,173.42 Z" stroke-width="1.45"/>
<path d="M231.09,166.24 L229.10,169.69 L233.09,169.69 Z" stroke-width="1.45"/>
<path d="M232.90,162.51 L230.91,165.96 L234.89,165.96 Z" stroke-width="1.45"/>
<path d="M234.65,158.80 L232.66,162.25 L236.65,162.25 Z" stroke-width="1.45"/>
<path d="M236.35,155.10 L234.36,158.55 L238.34,158.55 Z" stroke-width="1.45"/>
<path d="M238.00,151.41 L236.01,154.86 L239.99,154.86 Z" stroke-width="1.45"/>
<path d="M239.60,147.74 L237.60,151.19 L241.59,151.19 Z" stroke-width="1.45"/>
<path d="M241.15,144.07 L239.16,147.52 L243.14,147.52 Z" stroke-width="1.45"/>
<path d="M242.66,140.42 L240.67,143.87 L244.65,143.87 Z" stroke-width="1.45"/>
<path d="M244.13,136.77 L242.14,140.22 L246.12,140.22 Z" stroke-width="1.45"/>
<path d="M245.57,133.14 L243.57,136.59 L247.56,136.59 Z" stroke-width="1.45"/>
<path d="M246.96,129.51 L244.97,132.96 L248.95,132.96 Z"/>
<path d="M248.32,125.89 L246.33,129.34 L250.32,129.34 Z"/>
<path d="M249.65,122.28 L247.66,125.73 L251.64,125.73 Z"/>
<path d="M250.95,118.68 L248.96,122.13 L252.94,122.13 Z"/>
<path d="M252.22,115.09 L250.23,118.54 L254.21,118.54 Z"/>
<path d="M253.46,111.50 L251.47,114.95 L255.45,114.95 Z"/>
<path d="M254.67,107.92 L252.68,111.37 L256.66,111.37 Z"/>
<path d="M255.86,104.35 L253.86,107.80 L257.85,107.80 Z"/>
<path d="M257.02,100.79 L255.03,104.24 L259.01,104.24 Z"/>
<path d="M258.15,97.23 L256.16,100.68 L260.15,100.68 Z"/>
<circle cx="158.19" cy="256.57" r="2.0"/>
<circle cx="164.69" cy="251.71" r="2.0"/>
<circle cx="170.50" cy="247.33" r="2.0"/>
<circle cx="175.76" cy="243.43" r="2.0"/>
<circle cx="180.56" cy="239.30" r="2.0"/>
<circle cx="184.97" cy="234.40" r="2.0"/>
<circle cx="189.06" cy="230.23" r="2.0"/>
<circle cx="192.86" cy="226.11" r="2.0"/>
<circle cx="196.42" cy="222.04" r="2.0"/>
<circle cx="199.77" cy="218.01" r="2.0" stroke-width="1.45"/>
<circle cx="202.92" cy="214.01" r="2.0" stroke-width="1.45"/>
<circle cx="205.90" cy="210.04" r="2.0" stroke-width="1.45"/>
<circle cx="208.73" cy="206.10" r="2.0" stroke-width="1.45"/>
<circle cx="211.42" cy="202.80" r="2.0" stroke-width="1.45"/>
<circle cx="213.99" cy="198.30" r="2.0" stroke-width="1.45"/>
<circle cx="216.44" cy="194.44" r="2.0" stroke-width="1.45"/>
<circle cx="218.79" cy="190.60" r="2.0" stroke-width="1.45"/>
<circle cx="221.04" cy="186.78" r="2.0" stroke-width="1.45"/>
<circle cx="223.20" cy="182.97" r="2.0" stroke-width="1.45"/>
<circle cx="225.28" cy="179.19" r="2.0" stroke-width="1.45"/>
<circle cx="227.29" cy="175.42" r="2.0" stroke-width="1.45"/>
<circle cx="229.22" cy="171.67" r="2.0" stroke-width="1.45"/>
<circle cx="231.09" cy="167.93" r="2.0" stroke-width="1.45"/>
<circle cx="232.90" cy="164.20" r="2.0" stroke-width="1.45"/>
<circle cx="234.65" cy="160.49" r="2.0" stroke-width="1.45"/>
<circle cx="236.35" cy="156.79" r="2.0" stroke-width="1.45"/>
<circle cx="238.00" cy="153.10" r="2.0" stroke-width="1.45"/>
<circle cx="239.60" cy="149.43" r="2.0" stroke-width="1.45"/>
<circle cx="241.15" cy="145.76" r="2.0" stroke-width="1.45"/>
<circle cx="242.66" cy="142.11" r="2.0" stroke-width="1.45"/>
<circle cx="244.13" cy="138.46" r="2.0" stroke-width="1.45"/>
<circle cx="245.57" cy="134.83" r="2.0" stroke-width="1.45"/>
<circle cx="246.96" cy="131.20" r="2.0"/>
<circle cx="248.32" cy="127.58" r="2.0"/>
<circle cx="249.65" cy="123.97" r="2.0"/>
<circle cx="250.95" cy="120.37" r="2.0"/>
<circle cx="252.22" cy="116.78" r="2.0"/>
<circle cx="253.46" cy="113.19" r="2.0"/>
<circle cx="254.67" cy="109.62" r="2.0"/>
<circle cx="255.86" cy="106.04" r="2.0"/>
<circle cx="257.02" cy="102.48" r="2.0"/>
<circle cx="258.15" cy="98.92" r="2.0"/>
<circle cx="259.27" cy="95.51" r="2.0"/>
<circle cx="164.69" cy="270.27" r="1.7" fill="#000"/>
<circle cx="170.50" cy="268.15" r="1.7" fill="#000"/>
<circle cx="175.76" cy="266.11" r="1.7" fill="#000"/>
<circle cx="180.56" cy="264.12" r="1.7" fill="#000"/>
<circle cx="184.97" cy="262.19" r="1.7" fill="#000"/>
<circle cx="189.06" cy="260.30" r="1.7" fill="#000"/>
<circle cx="192.86" cy="258.44" r="1.7" fill="#000"/>
<circle cx="196.42" cy="256.62" r="1.7" fill="#000"/>
<circle cx="199.77" cy="254.83" r="1.7" fill="#000"/>
<circle cx="202.92" cy="253.07" r="1.7" fill="#000"/>
<circle cx="205.90" cy="251.33" r="1.7" fill="#000"/>
<circle cx="208.73" cy="249.61" r="1.7" fill="#000"/>
<circle cx="211.42" cy="247.91" r="1.7" fill="#000"/>
<circle cx="213.99" cy="246.23" r="1.7" fill="#000"/>
<circle cx="216.44" cy="244.57" r="1.7" fill="#000"/>
<circle cx="218.79" cy="242.91" r="1.7" fill="#000"/>
<circle cx="221.04" cy="241.27" r="1.7" fill="#000"/>
<circle cx="223.20" cy="239.65" r="1.7" fill="#000"/>
<circle cx="225.28" cy="238.03" r="1.7" fill="#000"/>
<circle cx="227.29" cy="236.43" r="1.7" fill="#000"/>
<circle cx="229.22" cy="234.83" r="1.7" fill="#000"/>
<circle cx="231.09" cy="233.25" r="1.7" fill="#000"/>
<circle cx="232.90" cy="231.67" r="1.7" fill="#000"/>
<circle cx="234.65" cy="230.10" r="1.7" fill="#000"/>
<circle cx="236.35" cy="228.54" r="1.7" fill="#000"/>
<circle cx="238.00" cy="226.98" r="1.7" fill="#000"/>
<circle cx="239.60" cy="225.43" r="1.7" fill="#000"/>
<circle cx="241.15" cy="223.89" r="1.7" fill="#000"/>
<circle cx="242.66" cy="222.35" r="1.7" fill="#000"/>
<circle cx="244.13" cy="220.82" r="1.7" fill="#000"/>
<circle cx="245.57" cy="219.30" r="1.7" fill="#000"/>
<circle cx="246.96" cy="217.77" r="1.7" fill="#000"/>
<circle cx="248.32" cy="216.26" r="1.7" fill="#000"/>
<circle cx="249.65" cy="214.74" r="1.7" fill="#000"/>
<circle cx="250.95" cy="213.24" r="1.7" fill="#000"/>
<circle cx="252.22" cy="211.73" r="1.7" fill="#000"/>
<circle cx="253.46" cy="210.23" r="1.7" fill="#000"/>
<circle cx="254.67" cy="208.73" r="1.7" fill="#000"/>
<circle cx="255.86" cy="207.24" r="1.7" fill="#000"/>
<circle cx="257.02" cy="205.75" r="1.7" fill="#000"/>
<circle cx="258.15" cy="204.26" r="1.7" fill="#000"/>
<circle cx="259.27" cy="202.78" r="1.7" fill="#000"/>
<circle cx="260.36" cy="201.29" r="1.7" fill="#000"/>
<circle cx="261.43" cy="199.82" r="1.7" fill="#000"/>
<circle cx="262.48" cy="198.34" r="1.7" fill="#000"/>
<circle cx="263.51" cy="196.86" r="1.7" fill="#000"/>
<circle cx="264.53" cy="195.39" r="1.7" fill="#000"/>
<circle cx="265.52" cy="193.92" r="1.7" fill="#000"/>
<circle cx="266.50" cy="192.46" r="1.7" fill="#000"/>
<circle cx="267.46" cy="190.99" r="1.7" fill="#000"/>
<circle cx="268.40" cy="189.53" r="1.7" fill="#000"/>
<circle cx="269.33" cy="188.07" r="1.7" fill="#000"/>
<circle cx="270.24" cy="186.61" r="1.7" fill="#000"/>
<circle cx="271.13" cy="185.15" r="1.7" fill="#000"/>
<circle cx="272.02" cy="183.69" r="1.7" fill="#000"/>
<circle cx="272.88" cy="182.24" r="1.7" fill="#000"/>
<circle cx="273.74" cy="180.78" r="1.7" fill="#000"/>
<circle cx="274.58" cy="179.33" r="1.7" fill="#000"/>
<circle cx="275.41" cy="177.88" r="1.7" fill="#000"/>
<circle cx="276.23" cy="176.43" r="1.7" fill="#000"/>
<circle cx="277.03" cy="174.99" r="1.7" fill="#000"/>
<circle cx="277.83" cy="173.54" r="1.7" fill="#000"/>
<circle cx="278.61" cy="172.10" r="1.7" fill="#000"/>
<circle cx="279.38" cy="170.65" r="1.7" fill="#000"/>
<circle cx="280.14" cy="169.21" r="1.7" fill="#000"/>
<circle cx="280.89" cy="167.77" r="1.7" fill="#000"/>
<circle cx="281.63" cy="166.33" r="1.7" fill="#000"/>
<circle cx="282.36" cy="164.89" r="1.7" fill="#000"/>
<circle cx="283.08" cy="163.45" r="1.7" fill="#000"/>
<circle cx="283.80" cy="162.01" r="1.7" fill="#000"/>
<circle cx="284.50" cy="160.58" r="1.7" fill="#000"/>
<circle cx="285.19" cy="159.14" r="1.7" fill="#000"/>
<circle cx="285.88" cy="157.71" r="1.7" fill="#000"/>
<circle cx="286.55" cy="156.27" r="1.7" fill="#000"/>
<circle cx="287.22" cy="154.84" r="1.7" fill="#000"/>
<circle cx="287.88" cy="153.41" r="1.7" fill="#000"/>
<circle cx="288.54" cy="151.98" r="1.7" fill="#000"/>
<circle cx="289.18" cy="150.55" r="1.7" fill="#000"/>
<circle cx="289.82" cy="149.12" r="1.7" fill="#000"/>
<circle cx="290.45" cy="147.69" r="1.7" fill="#000"/>
<circle cx="291.07" cy="146.26" r="1.7" fill="#000"/>
<circle cx="291.69" cy="144.83" r="1.7" fill="#000"/>
<circle cx="292.30" cy="143.41" r="1.7" fill="#000"/>
<circle cx="292.90" cy="141.98" r="1.7" fill="#000"/>
<circle cx="293.50" cy="140.55" r="1.7" fill="#000"/>
<circle cx="294.09" cy="139.13" r="1.7" fill="#000"/>
<circle cx="294.67" cy="137.70" r="1.7" fill="#000"/>
<circle cx="295.25" cy="136.28" r="1.7" fill="#000"/>
<circle cx="295.82" cy="134.86" r="1.7" fill="#000"/>
<circle cx="296.39" cy="133.43" r="1.7" fill="#000"/>
<circle cx="296.95" cy="132.01" r="1.7" fill="#000"/>
<circle cx="297.50" cy="130.59" r="1.7" fill="#000"/>
<circle cx="298.05" cy="129.17" r="1.7" fill="#000"/>
<circle cx="298.59" cy="127.75" r="1.7" fill="#000"/>
<circle cx="299.13" cy="126.33" r="1.7" fill="#000"/>
<circle cx="299.66" cy="124.90" r="1.7" fill="#000"/>
<circle cx="300.19" cy="123.48" r="1.7" fill="#000"/>
<circle cx="300.71" cy="122.07" r="1.7" fill="#000"/>
<circle cx="301.23" cy="120.65" r="1.7" fill="#000"/>
<circle cx="301.74" cy="119.23" r="1.7" fill="#000"/>
<circle cx="302.25" cy="117.81" r="1.7" fill="#000"/>
<circle cx="302.76" cy="116.39" r="1.7" fill="#000"/>
<circle cx="303.26" cy="114.97" r="1.7" fill="#000"/>
<circle cx="303.75" cy="113.56" r="1.7" fill="#000"/>
<circle cx="304.24" cy="112.14" r="1.7" fill="#000"/>
<circle cx="304.73" cy="110.72" r="1.7" fill="#000"/>
<circle cx="305.21" cy="109.31" r="1.7" fill="#000"/>
<circle cx="305.69" cy="107.89" r="1.7" fill="#000"/>
<circle cx="306.16" cy="106.47" r="1.7" fill="#000"/>
<circle cx="306.63" cy="105.06" r="1.7" fill="#000"/>
<circle cx="307.09" cy="103.64" r="1.7" fill="#000"/>
<circle cx="307.56" cy="102.23" r="1.7" fill="#000"/>
<circle cx="308.01" cy="100.81" r="1.7" fill="#000"/>
<circle cx="308.47" cy="99.40" r="1.7" fill="#000"/>
<circle cx="308.92" cy="97.98" r="1.7" fill="#000"/>
<circle cx="309.36" cy="96.57" r="1.7" fill="#000"/>
<circle cx="309.81" cy="95.16" r="1.7" fill="#000"/>
<circle cx="310.25" cy="93.74" r="1.7" fill="#000"/>
<circle cx="310.68" cy="92.33" r="1.7" fill="#000"/>
<circle cx="311.12" cy="90.92" r="1.7" fill="#000"/>
<circle cx="311.54" cy="89.50" r="1.7" fill="#000"/>
<path d="M104.09,284.20 L102.10,287.65 L106.09,287.65 Z"/>
<path d="M119.96,280.31 L117.97,283.76 L121.95,283.76 Z"/>
<path d="M132.27,276.90 L130.28,280.35 L134.26,280.35 Z"/>
<path d="M142.33,274.47 L140.33,277.92 L144.32,277.92 Z"/>
<path d="M150.83,272.28 L148.84,275.73 L152.82,275.73 Z"/>
<path d="M158.19,270.18 L156.20,273.63 L160.18,273.63 Z"/>
<path d="M164.69,267.97 L162.70,271.42 L166.68,271.42 Z"/>
<path d="M170.50,265.85 L168.51,269.30 L172.49,269.30 Z"/>
<path d="M175.76,263.81 L173.77,267.26 L177.75,267.26 Z"/>
<path d="M180.56,261.82 L178.56,265.27 L182.55,265.27 Z"/>
<circle cx="170.50" cy="268.15" r="2.0"/>
<circle cx="175.76" cy="266.11" r="2.0"/>
<circle cx="180.56" cy="264.12" r="2.0"/>
<circle cx="184.97" cy="262.19" r="2.0"/>
<circle cx="189.06" cy="260.30" r="2.0"/>
<circle cx="192.86" cy="258.44" r="2.0"/>
<circle cx="196.42" cy="256.62" r="2.0"/>
<circle cx="199.77" cy="254.83" r="2.0"/>
<circle cx="202.92" cy="253.07" r="2.0"/>
<circle cx="205.90" cy="251.33" r="2.0"/>
<circle cx="208.73" cy="249.61" r="2.0"/>
<circle cx="211.42" cy="247.91" r="2.0"/>
<circle cx="213.99" cy="246.23" r="2.0"/>
<circle cx="216.44" cy="244.57" r="2.0"/>
<circle cx="218.79" cy="242.91" r="2.0"/>
<circle cx="221.04" cy="241.27" r="2.0"/>
<circle cx="223.20" cy="239.65" r="2.0"/>
<circle cx="225.28" cy="238.03" r="2.0"/>
<circle cx="227.29" cy="236.43" r="2.0"/>
<circle cx="229.22" cy="234.83" r="2.0"/>
<circle cx="231.09" cy="233.25" r="2.0"/>
<circle cx="232.90" cy="231.67" r="2.0"/>
<circle cx="234.65" cy="230.10" r="2.0"/>
<circle cx="236.35" cy="228.54" r="2.0"/>
<circle cx="238.00" cy="226.98" r="2.0"/>
<circle cx="239.60" cy="225.43" r="2.0"/>
<circle cx="241.15" cy="223.89" r="2.0"/>
<circle cx="242.66" cy="222.35" r="2.0"/>
<circle cx="244.13" cy="220.82" r="2.0"/>
<circle cx="245.57" cy="219.30" r="2.0"/>
<circle cx="246.96" cy="217.77" r="2.0"/>
<circle cx="248.32" cy="216.26" r="2.0"/>
<circle cx="249.65" cy="214.74" r="2.0"/>
<circle cx="250.95" cy="213.24" r="2.0"/>
<circle cx="252.22" cy="211.73" r="2.0"/>
<circle cx="253.46" cy="210.23" r="2.0"/>
<circle cx="254.67" cy="208.73" r="2.0"/>
<circle cx="255.86" cy="207.24" r="2.0"/>
<circle cx="257.02" cy="205.75" r="2.0"/>
<circle cx="258.15" cy="204.26" r="2.0"/>
<circle cx="259.27" cy="202.78" r="2.0"/>
<circle cx="260.36" cy="201.29" r="2.0"/>
<circle cx="261.43" cy="199.82" r="2.0"/>
<circle cx="262.48" cy="198.34" r="2.0"/>
<circle cx="263.51" cy="196.86" r="2.0"/>
<circle cx="264.53" cy="195.39" r="2.0"/>
<circle cx="265.52" cy="193.92" r="2.0"/>
<circle cx="266.50" cy="192.46" r="2.0"/>
<circle cx="267.46" cy="190.99" r="2.0"/>
<circle cx="268.40" cy="189.53" r="2.0"/>
<circle cx="269.33" cy="188.07" r="2.0"/>
<circle cx="270.24" cy="186.61" r="2.0"/>
<circle cx="271.13" cy="185.15" r="2.0"/>
<circle cx="272.02" cy="183.69" r="2.0"/>
<circle cx="272.88" cy="182.24" r="2.0"/>
<circle cx="273.74" cy="180.78" r="2.0"/>
<circle cx="274.58" cy="179.33" r="2.0"/>
<circle cx="275.41" cy="177.88" r="2.0"/>
<circle cx="276.23" cy="176.43" r="2.0"/>
<circle cx="277.03" cy="174.99" r="2.0"/>
<circle cx="277.83" cy="173.54" r="2.0"/>
<circle cx="278.61" cy="172.10" r="2.0"/>
<circle cx="279.38" cy="170.65" r="2.0"/>
<circle cx="280.14" cy="169.21" r="2.0"/>
<circle cx="280.89" cy="167.77" r="2.0"/>
<circle cx="281.63" cy="166.33" r="2.0"/>
<circle cx="282.36" cy="164.89" r="2.0"/>
<circle cx="283.08" cy="163.45" r="2.0"/>
<circle cx="283.80" cy="162.01" r="2.0"/>
<circle cx="284.50" cy="160.58" r="2.0"/>
<circle cx="285.19" cy="159.14" r="2.0"/>
<circle cx="285.88" cy="157.71" r="2.0"/>
<circle cx="286.55" cy="156.27" r="2.0"/>
<circle cx="287.22" cy="154.84" r="2.0"/>
<circle cx="287.88" cy="153.41" r="2.0"/>
<circle cx="288.54" cy="151.98" r="2.0"/>
<circle cx="289.18" cy="150.55" r="2.0"/>
<circle cx="289.82" cy="149.12" r="2.0"/>
<circle cx="290.45" cy="147.69" r="2.0"/>
<circle cx="291.07" cy="146.26" r="2.0"/>
<circle cx="291.69" cy="144.83" r="2.0"/>
<circle cx="292.30" cy="143.41" r="2.0"/>
<circle cx="292.90" cy="141.98" r="2.0"/>
<circle cx="293.50" cy="140.55" r="2.0"/>
<circle cx="294.09" cy="139.13" r="2.0"/>
<circle cx="294.67" cy="137.70" r="2.0"/>
<circle cx="295.25" cy="136.28" r="2.0"/>
<circle cx="295.82" cy="134.86" r="2.0"/>
<circle cx="296.39" cy="133.43" r="2.0"/>
<circle cx="296.95" cy="132.01" r="2.0"/>
<circle cx="297.50" cy="130.59" r="2.0"/>
<circle cx="298.05" cy="129.17" r="2.0"/>
<circle cx="298.59" cy="127.75" r="2.0"/>
<circle cx="299.13" cy="126.33" r="2.0"/>
<circle cx="299.66" cy="124.90" r="2.0"/>
<circle cx="300.19" cy="123.48" r="2.0"/>
<circle cx="300.71" cy="122.07" r="2.0"/>
<circle cx="301.23" cy="120.65" r="2.0"/>
<circle cx="301.74" cy="119.23" r="2.0"/>
<circle cx="302.25" cy="117.81" r="2.0"/>
<circle cx="302.76" cy="116.39" r="2.0"/>
<circle cx="303.26" cy="114.97" r="2.0"/>
<circle cx="303.75" cy="113.56" r="2.0"/>
<circle cx="304.24" cy="112.14" r="2.0"/>
<circle cx="304.73" cy="110.72" r="2.0"/>
<circle cx="305.21" cy="109.31" r="2.0"/>
<circle cx="305.69" cy="107.89" r="2.0"/>
<circle cx="306.16" cy="106.47" r="2.0"/>
<circle cx="306.63" cy="105.06" r="2.0"/>
<circle cx="307.09" cy="103.64" r="2.0"/>
<circle cx="307.56" cy="102.23" r="2.0"/>
<circle cx="308.01" cy="100.81" r="2.0"/>
<circle cx="308.47" cy="99.40" r="2.0"/>
<circle cx="308.92" cy="97.98" r="2.0"/>
<circle cx="309.36" cy="96.57" r="2.0"/>
<circle cx="309.81" cy="95.16" r="2.0"/>
<circle cx="310.25" cy="93.74" r="2.0"/>
<circle cx="310.68" cy="92.33" r="2.0"/>
<circle cx="311.12" cy="90.92" r="2.0"/>
<circle cx="311.54" cy="89.50" r="2.0"/>
<circle cx="43.3" cy="295.7" r="1.9" fill="#000"/>
</g>
<g stroke="#000" stroke-width="1" fill="none" stroke-linecap="butt">
<rect x="43.5" y="3.5" width="292.0" height="292.0"/>
<path d="M43.50,295.5 V291.10 M43.50,3.5 V7.90"/>
<path d="M81.73,295.5 V293.20 M81.73,3.5 V5.80"/>
<path d="M104.09,295.5 V293.20 M104.09,3.5 V5.80"/>
<path d="M119.96,295.5 V293.20 M119.96,3.5 V5.80"/>
<path d="M132.27,295.5 V293.20 M132.27,3.5 V5.80"/>
<path d="M142.33,295.5 V293.20 M142.33,3.5 V5.80"/>
<path d="M150.83,295.5 V293.20 M150.83,3.5 V5.80"/>
<path d="M158.19,295.5 V293.20 M158.19,3.5 V5.80"/>
<path d="M164.69,295.5 V293.20 M164.69,3.5 V5.80"/>
<path d="M170.50,295.5 V291.10 M170.50,3.5 V7.90"/>
<path d="M208.73,295.5 V293.20 M208.73,3.5 V5.80"/>
<path d="M231.09,295.5 V293.20 M231.09,3.5 V5.80"/>
<path d="M246.96,295.5 V293.20 M246.96,3.5 V5.80"/>
<path d="M259.27,295.5 V293.20 M259.27,3.5 V5.80"/>
<path d="M269.33,295.5 V293.20 M269.33,3.5 V5.80"/>
<path d="M277.83,295.5 V293.20 M277.83,3.5 V5.80"/>
<path d="M285.19,295.5 V293.20 M285.19,3.5 V5.80"/>
<path d="M291.69,295.5 V293.20 M291.69,3.5 V5.80"/>
<path d="M297.50,295.5 V291.10 M297.50,3.5 V7.90"/>
<path d="M335.73,295.5 V293.20 M335.73,3.5 V5.80"/>
<path d="M43.5,295.50 H49.70 M335.5,295.50 H329.30"/>
<path d="M43.5,271.17 H47.70 M335.5,271.17 H331.30"/>
<path d="M43.5,246.84 H47.70 M335.5,246.84 H331.30"/>
<path d="M43.5,222.51 H47.70 M335.5,222.51 H331.30"/>
<path d="M43.5,198.18 H47.70 M335.5,198.18 H331.30"/>
<path d="M43.5,173.85 H47.70 M335.5,173.85 H331.30"/>
<path d="M43.5,149.52 H47.70 M335.5,149.52 H331.30"/>
<path d="M43.5,125.19 H47.70 M335.5,125.19 H331.30"/>
<path d="M43.5,100.86 H47.70 M335.5,100.86 H331.30"/>
<path d="M43.5,76.53 H47.70 M335.5,76.53 H331.30"/>
<path d="M43.5,52.20 H49.70 M335.5,52.20 H329.30"/>
<path d="M43.5,27.87 H47.70 M335.5,27.87 H331.30"/>
<path d="M43.5,3.54 H47.70 M335.5,3.54 H331.30"/>
</g>
</svg>
<div id="tx" style="position:absolute;left:0;top:0;width:339px;height:341px;opacity:0.999;will-change:opacity;"><div class="t" style="right:297.3px;top:286.74px;font-size:15.5px;text-align:right;transform:scaleX(0.9);transform-origin:100% 50%;-webkit-text-stroke:0.2px #000">0</div><div class="t" style="right:296.0px;top:165.09px;font-size:15.5px;text-align:right;transform:scaleX(0.9);transform-origin:100% 50%;-webkit-text-stroke:0.2px #000">50</div><div class="t" style="right:296.0px;top:43.44px;font-size:15.5px;text-align:right;transform:scaleX(0.9);transform-origin:100% 50%;-webkit-text-stroke:0.2px #000">100</div><div class="t" style="left:33.30px;top:302.85px;font-size:14.5px">10<span style="font-size:10.4px;position:relative;top:-7.3px;left:0.7px">0</span></div><div class="t" style="left:160.30px;top:302.85px;font-size:14.5px">10<span style="font-size:10.4px;position:relative;top:-7.3px;left:0.7px">1</span></div><div class="t" style="left:287.30px;top:302.85px;font-size:14.5px">10<span style="font-size:10.4px;position:relative;top:-7.3px;left:0.7px">2</span></div><div class="t" style="left:195.2px;top:321.6px;font-size:14px;font-family:'Liberation Serif',serif;font-style:italic">i</div><div class="t" id="yl" style="left:9.8px;top:151.9px;font-size:12px;letter-spacing:0.12px;font-family:'Liberation Serif',serif;transform:translate(-50%,-50%) rotate(-90deg);transform-origin:50% 50%">&Delta;<i>G</i> (<i>S</i>=1) / <i>kT</i></div><div class="t" style="left:137.7px;top:11.12px;font-size:9.9px;color:#5E1E82;transform:scaleX(0.88);transform-origin:0 50%">T=0.3</div><div class="t" style="left:191.2px;top:11.82px;font-size:9.9px;color:#14AFEB;transform:scaleX(0.88);transform-origin:0 50%">0.4</div><div class="t" style="left:216.5px;top:11.82px;font-size:9.9px;color:#14CD14;transform:scaleX(0.88);transform-origin:0 50%">0.5</div><div class="t" style="left:250.2px;top:19.82px;font-size:9.9px;color:#695A19;transform:scaleX(0.88);transform-origin:0 50%">0.6</div><div class="t" style="left:295.7px;top:28.22px;font-size:9.9px;color:#FF8C14;transform:scaleX(0.88);transform-origin:0 50%">0.8</div><div class="t" style="left:308.6px;top:136.82px;font-size:9.9px;color:#E11446;transform:scaleX(0.88);transform-origin:0 50%">1.0</div></div>
</div></body></html>
